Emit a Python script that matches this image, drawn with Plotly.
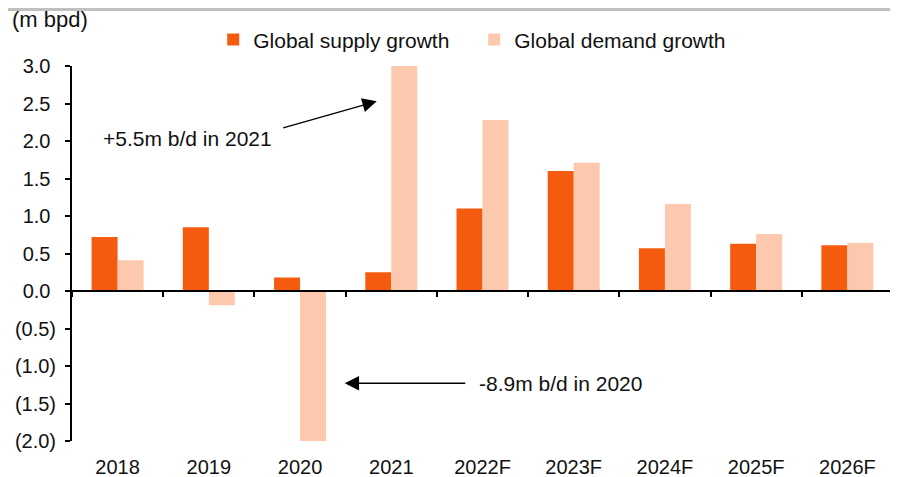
import plotly.graph_objects as go

years = ["2018", "2019", "2020", "2021", "2022F", "2023F", "2024F", "2025F", "2026F"]
supply = [0.72, 0.85, 0.18, 0.25, 1.10, 1.60, 0.57, 0.63, 0.61]
demand = [0.41, -0.19, -8.9, 5.5, 2.28, 1.71, 1.16, 0.76, 0.64]
y_ticks = [3.0, 2.5, 2.0, 1.5, 1.0, 0.5, 0.0, -0.5, -1.0, -1.5, -2.0]
# positive labels get a trailing space so digits line up with the "(x.x)" ones
y_labels = [f"{v:.1f}\u00a0" if v >= 0 else f"({abs(v):.1f})" for v in y_ticks]

font = "Liberation Sans, Arial, sans-serif"

fig = go.Figure()
fig.add_trace(go.Bar(x=years, y=supply, name="Global supply growth",
                     marker=dict(color="#F45B0E", line=dict(width=0))))
fig.add_trace(go.Bar(x=years, y=demand, name="Global demand growth",
                     marker=dict(color="#FCC9AE", line=dict(width=0))))
# dummy trace for the axis line sitting on zero
fig.add_trace(go.Scatter(x=years, y=[None] * len(years), xaxis="x2",
                         showlegend=False, hoverinfo="skip"))

# page body has an 8px margin, so the figure is sized to fit the window
fig.update_layout(
    width=890, height=469,
    margin=dict(l=64, r=5, t=58, b=36, autoexpand=False),
    paper_bgcolor="white", plot_bgcolor="white",
    font=dict(family=font, size=20, color="#111"),
    barmode="group", bargap=0.43, bargroupgap=0,
    showlegend=True,
    legend=dict(orientation="h", x=0.172, y=1.07, xanchor="left", yanchor="middle",
                font=dict(size=21), entrywidth=216, entrywidthmode="pixels",
                tracegroupgap=0, bgcolor="rgba(0,0,0,0)"),
    xaxis=dict(showline=False, ticks="outside", ticklen=8, tickcolor="rgba(0,0,0,0)",
               showgrid=False, zeroline=False,
               tickfont=dict(size=20), range=[-0.5, 8.5]),
    xaxis2=dict(overlaying="x", anchor="free", position=0.4, side="bottom",
                showline=True, linecolor="black", linewidth=2,
                ticks="outside", ticklen=5, tickwidth=2, tickcolor="black",
                tickson="boundaries", showticklabels=False, showgrid=False,
                zeroline=False, range=[-0.5, 8.5], type="category",
                categoryarray=years),
    yaxis=dict(range=[-2.0, 3.0], tickvals=y_ticks, ticktext=y_labels,
               showline=True, linecolor="black", linewidth=2,
               ticks="outside", ticklen=5, tickwidth=2, tickcolor="black",
               showgrid=False, zeroline=False, tickfont=dict(size=20),
               ticklabelstandoff=5),
)

fig.add_annotation(xref="paper", yref="paper", x=-0.075, y=1.125,
                   xanchor="left", yanchor="middle", text="(m bpd)",
                   showarrow=False, font=dict(size=22))
fig.add_shape(type="line", xref="paper", yref="paper", x0=-0.1, x1=1.02,
              y0=1.151, y1=1.151, line=dict(color="#c0c0c0", width=3))

# arrows
fig.add_annotation(x=2.84, y=2.53, ax=-95, ay=27, text="", showarrow=True,
                   arrowhead=2, arrowsize=2.2, arrowwidth=1.3, arrowcolor="black")
fig.add_annotation(x=0.77, y=2.04, text="+5.5m b/d in 2021", showarrow=False,
                   font=dict(size=21))
fig.add_annotation(x=2.49, y=-1.23, ax=122, ay=0, text="", showarrow=True,
                   arrowhead=2, arrowsize=2.2, arrowwidth=1.3, arrowcolor="black")
fig.add_annotation(x=4.85, y=-1.23, text="-8.9m b/d in 2020", showarrow=False,
                   font=dict(size=21))

fig.write_html("out.html")
